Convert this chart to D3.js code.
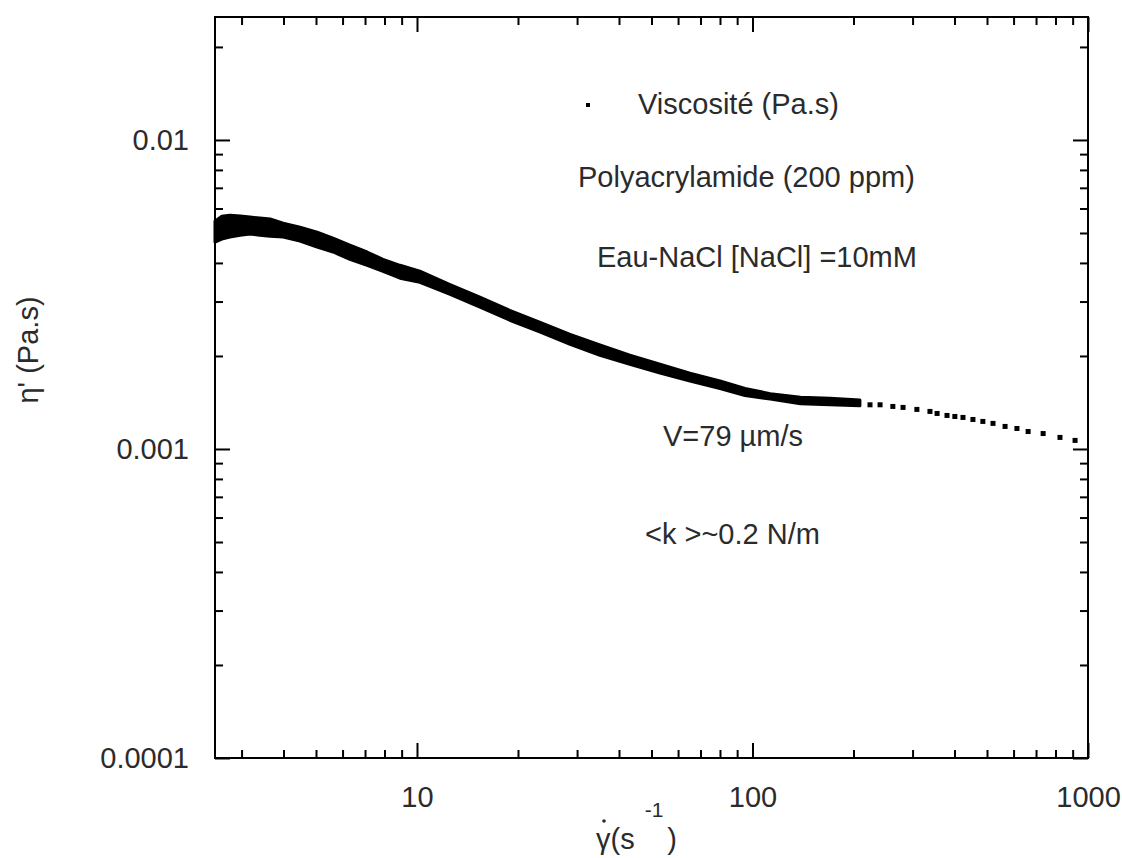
<!DOCTYPE html>
<html>
<head>
<meta charset="utf-8">
<script src="https://cdn.jsdelivr.net/npm/d3@7/dist/d3.min.js"></script>
<style>
  html, body { margin: 0; padding: 0; background: #ffffff; }
  svg { display: block; }
  text { font-family: "Liberation Sans", Arial, sans-serif; fill: #2b2b2b; }
</style>
</head>
<body>
<svg id="chart" width="1122" height="858"></svg>
<script>
// ---------------- data ----------------
// dense part of the measurement: shear rate and the spread (high / low) of viscosity
const gammaDense = [2.5, 2.62, 2.77, 2.97, 3.18, 3.4, 3.65, 3.99, 4.48, 5.04, 5.62, 6.31, 7.1, 7.92, 8.9,
  10.2, 12.5, 15.4, 18.9, 23.3, 28.6, 35.1, 43.1, 53, 65.1, 80, 95, 113, 139, 170, 209];
const etaDenseHigh = [0.00546, 0.00567, 0.00571, 0.00567, 0.00563, 0.00559, 0.00555, 0.00538, 0.00522, 0.00503,
  0.00481, 0.00457, 0.00434, 0.00411, 0.00393, 0.00376, 0.00341, 0.00310, 0.00281, 0.00257, 0.00235,
  0.00217, 0.00201, 0.00188, 0.00176, 0.00166, 0.00157, 0.00151, 0.00147, 0.00146, 0.00144];
const etaDenseLow = [0.00467, 0.00478, 0.00485, 0.00492, 0.00496, 0.00492, 0.00488, 0.00485, 0.00471, 0.00450,
  0.00434, 0.00411, 0.00393, 0.00376, 0.00357, 0.00346, 0.00317, 0.00288, 0.00261, 0.00239, 0.00218,
  0.00201, 0.00188, 0.00176, 0.00166, 0.00157, 0.00149, 0.00145, 0.00140, 0.00139, 0.00138];
// sparse high-shear points
const gammaSparse = [224, 240, 262, 281, 309, 338, 355, 380, 401, 424, 454, 486, 521, 566, 614, 663, 735, 825, 915];
const etaSparse = [0.00139, 0.00139, 0.001373, 0.001363, 0.001343, 0.001323, 0.001303, 0.001284, 0.001274,
  0.001265, 0.001246, 0.001228, 0.00121, 0.001183, 0.001165, 0.001139, 0.001122, 0.00109, 0.001066];

const xMajorTicks = [10, 100, 1000];
const xMajorLabels = ["10", "100", "1000"];
const xMinorTicks = [3, 4, 5, 6, 7, 8, 9, 20, 30, 40, 50, 60, 70, 80, 90, 200, 300, 400, 500, 600, 700, 800, 900];
const yMajorTicks = [0.0001, 0.001, 0.01];
const yMajorLabels = ["0.0001", "0.001", "0.01"];
const yMinorTicks = [0.0002, 0.0003, 0.0004, 0.0005, 0.0006, 0.0007, 0.0008, 0.0009,
  0.002, 0.003, 0.004, 0.005, 0.006, 0.007, 0.008, 0.009, 0.02];
const xDomain = [2.5, 1000];
const yDomain = [0.0001, 0.025];

const legendLabel = "Viscosité (Pa.s)";
const annotations = [
  { text: "Polyacrylamide (200 ppm)", x: 578, y: 187 },
  { text: "Eau-NaCl [NaCl] =10mM", x: 597, y: 267 },
  { text: "V=79 µm/s", x: 663, y: 446 },
  { text: "<k >~0.2 N/m", x: 645, y: 544 }
];

// ---------------- layout ----------------
const L = 215, R = 1088, T = 17, B = 758;
const svg = d3.select("#chart");
const x = d3.scaleLog().domain(xDomain).range([L, R]);
const y = d3.scaleLog().domain(yDomain).range([B, T]);

const fs = 29;

// dense band
const denseData = gammaDense.map((g, i) => ({ g, hi: etaDenseHigh[i], lo: etaDenseLow[i] }));
const area = d3.area().x(d => x(d.g)).y0(d => y(d.lo)).y1(d => y(d.hi)).curve(d3.curveLinear);
svg.append("path").datum(denseData).attr("d", area)
  .attr("fill", "#000").attr("stroke", "#000").attr("stroke-width", 3).attr("stroke-linejoin", "round");

// sparse points
const sparse = gammaSparse.map((g, i) => ({ g, e: etaSparse[i] }));
svg.append("g").selectAll("rect").data(sparse).enter().append("rect")
  .attr("x", d => x(d.g) - 2.5).attr("y", d => y(d.e) - 2.5)
  .attr("width", 5).attr("height", 5).attr("fill", "#000");

// axes
function styleAxis(g) {
  g.select(".domain").remove();
  g.selectAll(".tick line").attr("stroke", "#000").attr("stroke-width", 2);
  g.selectAll("text").style("font-size", fs + "px").attr("fill", "#2b2b2b");
}
// bottom
svg.append("g").attr("transform", `translate(0,${B})`)
  .call(d3.axisBottom(x).tickValues(xMajorTicks).tickFormat((d, i) => xMajorLabels[i]).tickSize(-15).tickPadding(28))
  .call(styleAxis);
svg.append("g").attr("transform", `translate(0,${B})`)
  .call(d3.axisBottom(x).tickValues(xMinorTicks).tickFormat("").tickSize(-8)).call(styleAxis);
// top
svg.append("g").attr("transform", `translate(0,${T})`)
  .call(d3.axisTop(x).tickValues(xMajorTicks).tickFormat("").tickSize(-15)).call(styleAxis);
svg.append("g").attr("transform", `translate(0,${T})`)
  .call(d3.axisTop(x).tickValues(xMinorTicks).tickFormat("").tickSize(-8)).call(styleAxis);
// left
svg.append("g").attr("transform", `translate(${L},0)`)
  .call(d3.axisLeft(y).tickValues(yMajorTicks).tickFormat((d, i) => yMajorLabels[i]).tickSize(-15).tickPadding(26))
  .call(styleAxis);
svg.append("g").attr("transform", `translate(${L},0)`)
  .call(d3.axisLeft(y).tickValues(yMinorTicks).tickFormat("").tickSize(-8)).call(styleAxis);
// right
svg.append("g").attr("transform", `translate(${R},0)`)
  .call(d3.axisRight(y).tickValues(yMajorTicks).tickFormat("").tickSize(-15)).call(styleAxis);
svg.append("g").attr("transform", `translate(${R},0)`)
  .call(d3.axisRight(y).tickValues(yMinorTicks).tickFormat("").tickSize(-8)).call(styleAxis);

// frame
svg.append("rect").attr("x", L).attr("y", T).attr("width", R - L).attr("height", B - T)
  .attr("fill", "none").attr("stroke", "#000").attr("stroke-width", 2);

// legend
svg.append("rect").attr("x", 586).attr("y", 103).attr("width", 4).attr("height", 4).attr("fill", "#000");
svg.append("text").attr("x", 638).attr("y", 114).style("font-size", fs + "px").text(legendLabel);

// annotations
svg.append("g").selectAll("text").data(annotations).enter().append("text")
  .attr("x", d => d.x).attr("y", d => d.y).style("font-size", fs + "px").text(d => d.text);

// axis titles
const xt = svg.append("text").attr("x", 596).attr("y", 849).style("font-size", fs + "px");
xt.append("tspan").text("γ");
xt.append("tspan").text("(s");
xt.append("tspan").attr("dy", -32).attr("dx", 10).style("font-size", "21px").text("-1");
xt.append("tspan").attr("dy", 32).attr("dx", 4).text(")");
// dot over gamma (time derivative mark)
svg.append("circle").attr("cx", 604).attr("cy", 821).attr("r", 1.8).attr("fill", "#2b2b2b");

svg.append("text").attr("transform", "translate(38,350) rotate(-90)")
  .attr("text-anchor", "middle").style("font-size", fs + "px").text("η' (Pa.s)");
</script>
</body>
</html>
